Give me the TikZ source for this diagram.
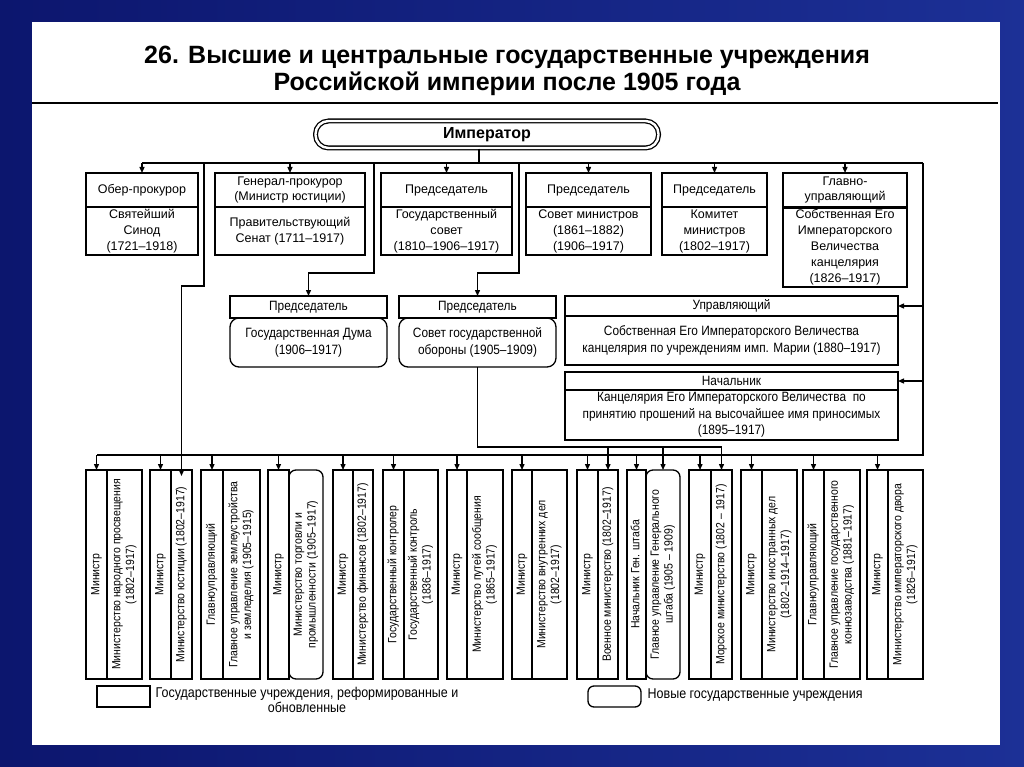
\documentclass[tikz,border=0pt]{standalone}
\usepackage{fontspec}
\usepackage{graphicx}
\setmainfont{Liberation Sans}
\newfontfamily\nar[FakeStretch=0.88]{Liberation Sans}
\usetikzlibrary{arrows.meta}
\newcommand\vt[1]{\rotatebox{90}{\begin{tabular}{@{}c@{}}#1\end{tabular}}}
\definecolor{navyA}{RGB}{12,22,110}
\definecolor{navyB}{RGB}{28,48,150}
\begin{document}
\begin{tikzpicture}[x=1pt,y=-1pt,line width=1.3pt,
  arr/.style={-{Triangle[length=6pt,width=5pt]}},
  tbox/.style={draw,align=center,inner sep=0pt,outer sep=0pt,font=\fontsize{12.5}{16}\selectfont},
  mbox/.style={draw,align=center,inner sep=0pt,outer sep=0pt,font=\nar\fontsize{13.5}{17}\selectfont},
  vcol/.style={draw,inner sep=0pt,outer sep=0pt,minimum height=209pt,font=\nar\fontsize{11.9}{13.8}\selectfont},
  vcolr/.style={vcol,rounded corners=7pt},
  lgtext/.style={inner sep=0pt,align=center,font=\nar\fontsize{14.2}{15}\selectfont}
]
\useasboundingbox (0,0) rectangle (1024,767);
\shade[left color=navyA,right color=navyB] (0,0) rectangle (1024,767);
\fill[white] (32,22) rectangle (1000,745);

% title
\node[inner sep=0pt,align=center,font=\bfseries\fontsize{25}{27}\selectfont] (title) at (507,71)
  {26. Высшие и центральные государственные учреждения\\Российской империи после 1905 года};
\coordinate (rl) at (32,103);
\coordinate (rr) at (998,103);
\draw[line width=1.6pt] (rl) -- (rr);

% emperor
\node[draw,double,double distance=2.4pt,rounded corners=13pt,minimum width=343pt,minimum height=27pt,
  inner sep=0pt,font=\bfseries\fontsize{16}{18}\selectfont] (emp) at (487,134.5) {Император};

% top row
\node[tbox,minimum width=112pt,minimum height=34pt] (b1h) at (142,190) {Обер-прокурор};
\node[tbox,minimum width=112pt,minimum height=48pt] (b1b) at (142,231) {Святейший\\Синод\\(1721–1918)};
\node[tbox,minimum width=150pt,minimum height=34pt,font=\fontsize{12.5}{15}\selectfont] (b2h) at (290,190) {Генерал-прокурор\\(Министр юстиции)};
\node[tbox,minimum width=150pt,minimum height=48pt] (b2b) at (290,231) {Правительствующий\\Сенат (1711–1917)};
\node[tbox,minimum width=131pt,minimum height=34pt] (b3h) at (446.5,190) {Председатель};
\node[tbox,minimum width=131pt,minimum height=48pt] (b3b) at (446.5,231) {Государственный\\совет\\(1810–1906–1917)};
\node[tbox,minimum width=125pt,minimum height=34pt] (b4h) at (588.5,190) {Председатель};
\node[tbox,minimum width=125pt,minimum height=48pt] (b4b) at (588.5,231) {Совет министров\\(1861–1882)\\(1906–1917)};
\node[tbox,minimum width=105pt,minimum height=34pt] (b5h) at (714.5,190) {Председатель};
\node[tbox,minimum width=105pt,minimum height=48pt] (b5b) at (714.5,231) {Комитет\\министров\\(1802–1917)};
\node[tbox,minimum width=124pt,minimum height=34pt,font=\fontsize{12.5}{15.5}\selectfont] (b6h) at (845,190) {Главно-\\управляющий};
\node[tbox,minimum width=124pt,minimum height=79pt] (b6b) at (845,247.5) {Собственная Его\\Императорского\\Величества\\канцелярия\\(1826–1917)};

% middle row
\node[mbox,rounded corners=9pt,minimum width=157pt,minimum height=49pt] (dumab) at (308.5,342.5) {Государственная Дума\\(1906–1917)};
\node[mbox,minimum width=157pt,minimum height=22pt,fill=white] (dumah) at (308.5,307) {Председатель};
\node[mbox,rounded corners=9pt,minimum width=157pt,minimum height=49pt] (sobob) at (477.5,342.5) {Совет государственной\\обороны (1905–1909)};
\node[mbox,minimum width=157pt,minimum height=22pt,fill=white] (soboh) at (477.5,307) {Председатель};
\node[mbox,minimum width=333pt,minimum height=20pt] (uprh) at (731.5,306) {Управляющий};
\node[mbox,minimum width=333pt,minimum height=49pt] (uprb) at (731.5,340.5) {Собственная Его Императорского Величества\\канцелярия по учреждениям имп. Марии (1880–1917)};
\node[mbox,minimum width=333pt,minimum height=18pt] (nachh) at (731.5,381) {Начальник};
\node[mbox,minimum width=333pt,minimum height=50pt,font=\nar\fontsize{13.5}{16.5}\selectfont] (nachb) at (731.5,415) {Канцелярия Его Императорского Величества\ \ по\\принятию прошений на высочайшее имя приносимых\\(1895–1917)};

% bottom row
\node[vcol,minimum width=21pt] (q1a) at (96.5,574.5) {\vt{Министр}};
\node[vcol,minimum width=35pt] (q1b) at (124.5,574.5) {\vt{Министерство народного просвещения\\(1802–1917)}};
\node[vcol,minimum width=21pt] (q2a) at (160.5,574.5) {\vt{Министр}};
\node[vcol,minimum width=21pt] (q2b) at (181.5,574.5) {\vt{Министерство юстиции (1802–1917)}};
\node[vcol,minimum width=22pt] (q3a) at (212,574.5) {\vt{Главноуправляющий}};
\node[vcol,minimum width=37pt] (q3b) at (241.5,574.5) {\vt{Главное управление землеустройства\\и земледелия (1905–1915)}};
\node[vcol,minimum width=21pt] (q4a) at (278.5,574.5) {\vt{Министр}};
\node[vcolr,minimum width=34pt] (q4b) at (306,574.5) {\vt{Министерство торговли и\\промышленности (1905–1917)}};
\node[vcol,minimum width=20pt] (q5a) at (343,574.5) {\vt{Министр}};
\node[vcol,minimum width=20pt] (q5b) at (363,574.5) {\vt{Министерство финансов (1802–1917)}};
\node[vcol,minimum width=21pt] (q6a) at (393.5,574.5) {\vt{Государственный контролер}};
\node[vcol,minimum width=34pt] (q6b) at (421,574.5) {\vt{Государственный контроль\\(1836–1917)}};
\node[vcol,minimum width=20pt] (q7a) at (457,574.5) {\vt{Министр}};
\node[vcol,minimum width=36pt] (q7b) at (485,574.5) {\vt{Министерство путей сообщения\\(1865–1917)}};
\node[vcol,minimum width=20pt] (q8a) at (522,574.5) {\vt{Министр}};
\node[vcol,minimum width=35pt] (q8b) at (549.5,574.5) {\vt{Министерство внутренних дел\\(1802–1917)}};
\node[vcol,minimum width=21pt] (q9a) at (587.5,574.5) {\vt{Министр}};
\node[vcol,minimum width=20pt] (q9b) at (608,574.5) {\vt{Военное министерство (1802–1917)}};
\node[vcol,minimum width=19pt] (q10a) at (636.5,574.5) {\vt{Начальник Ген. штаба}};
\node[vcolr,minimum width=34pt] (q10b) at (663,574.5) {\vt{Главное управление Генерального\\штаба (1905 – 1909)}};
\node[vcol,minimum width=22pt] (q11a) at (700,574.5) {\vt{Министр}};
\node[vcol,minimum width=21pt] (q11b) at (721.5,574.5) {\vt{Морское министерство (1802 – 1917)}};
\node[vcol,minimum width=21pt] (q12a) at (751.5,574.5) {\vt{Министр}};
\node[vcol,minimum width=35pt] (q12b) at (779.5,574.5) {\vt{Министерство иностранных дел\\(1802–1914–1917)}};
\node[vcol,minimum width=21pt] (q13a) at (813.5,574.5) {\vt{Главноуправляющий}};
\node[vcol,minimum width=36pt] (q13b) at (842,574.5) {\vt{Главное управление государственного\\коннозаводства (1881–1917)}};
\node[vcol,minimum width=21pt] (q14a) at (877.5,574.5) {\vt{Министр}};
\node[vcol,minimum width=35pt] (q14b) at (905.5,574.5) {\vt{Министерство императорского двора\\(1826–1917)}};

% legend
\node[draw,minimum width=53pt,minimum height=21pt,inner sep=0pt] (lg1) at (123.5,696.5) {};
\node[lgtext,anchor=west] (lt1) at (155,700) {Государственные учреждения, реформированные и\\обновленные};
\node[draw,rounded corners=6pt,minimum width=53pt,minimum height=21pt,inner sep=0pt] (lg2) at (614.5,696.5) {};
\node[lgtext,anchor=west] (lt2) at (647,695) {Новые государственные учреждения};

% connectors from emperor
\coordinate (busy) at (0,163);
\coordinate (st) at (479,163);
\coordinate (rv) at (923,163);
\draw (emp.south -| st) -- (st);
\draw (b1h.north |- busy) -- (rv);
\foreach \n in {b1h,b2h,b3h,b4h,b5h,b6h} \draw[arr] (\n.north |- busy) -- (\n.north);

% senate -> justice
\coordinate (s1) at (204,163);
\coordinate (s2) at (204,286);
\draw[arr] (s1) -- (s2) -| ([yshift=-6pt]q2b.north);
% duma
\coordinate (d1) at (374,163);
\coordinate (d2) at (374,273);
\draw[arr] (d1) -- (d2) -| (dumah.north);
% defence council
\coordinate (c1) at (519,163);
\coordinate (c2) at (519,273);
\draw[arr] (c1) -- (c2) -| (soboh.north);

% right line
\coordinate (bby) at (0,455);
\draw (rv) -- (rv |- bby) -- (q1a.north |- bby);
\draw[arr] (rv |- uprh.east) -- (uprh.east);
\draw[arr] (rv |- nachh.east) -- (nachh.east);
\foreach \n in {q1a,q2a,q3a,q4a,q5a,q6a,q7a,q8a,q9a,q10a,q11a,q12a,q13a,q14a}
  \draw[arr] (\n.north |- bby) -- (\n.north);

% defence council -> military
\coordinate (sy) at (0,447);
\draw (sobob.south) -- (sobob.south |- sy) -- (q11b.north |- sy);
\foreach \n in {q9b,q10b,q11b} \draw[arr] (\n.north |- sy) -- (\n.north);
\end{tikzpicture}
\end{document}
